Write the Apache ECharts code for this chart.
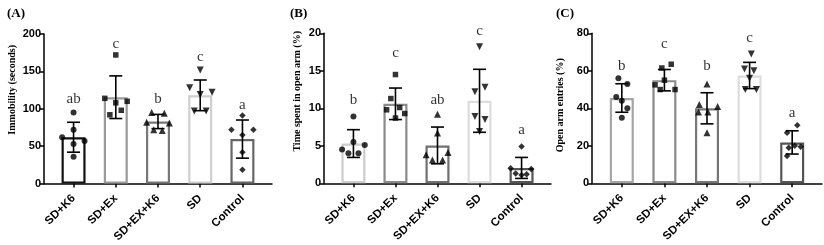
<!DOCTYPE html>
<html>
<head>
<meta charset="utf-8">
<script src="https://cdn.jsdelivr.net/npm/echarts@6/dist/echarts.min.js"></script>
<style>html,body{margin:0;padding:0;background:#fff}#c{width:824px;height:245px}</style>
</head>
<body>
<div id="c"></div>
<script>
// ---------- data ----------
const categories = ['SD+K6', 'SD+Ex', 'SD+EX+K6', 'SD', 'Control'];

// Panel A: Immobility (seconds)
const meansA = [62, 115.5, 83, 118, 59.5];
const sdA = [20, 28.5, 9.5, 20.5, 25.5];
const pointsA = [
  [95, 72, 62, 57, 53, 36],
  [172, 114, 110, 108, 98, 92],
  [95, 94, 82, 81, 72, 71],
  [152, 128, 122, 119, 97, 97],
  [91, 72, 72, 65, 42, 18.5]
];
const jitterA = [
  [0, 0, -0.27, 0.26, 0, 0],
  [0, -0.26, 0.27, 0, 0.13, -0.14],
  [-0.15, 0.15, -0.27, 0.27, -0.1, 0.1],
  [0, -0.25, 0.28, 0, -0.14, 0.14],
  [0, -0.26, 0.26, 0, 0, 0]
];
const lettersA = ['ab', 'c', 'b', 'c', 'a'];
const letterYA = [112.6, 187, 112.6, 169, 104.7];
const ticksA = [0, 50, 100, 150, 200];

// Panel B: Time spent in open arm (%)
const meansB = [5.3, 10.6, 5.05, 11.0, 2.05];
const sdB = [1.85, 2.1, 2.45, 4.2, 1.4];
const pointsB = [
  [8.9, 5.5, 4.5, 5.1, 4.0, 4.0],
  [14.5, 11.3, 10.1, 9.8, 9.3, 8.7],
  [9.2, 6.7, 4.1, 3.8, 3.1, 3.1],
  [18.2, 12.8, 12.2, 8.9, 8.5, 6.9],
  [4.9, 2.0, 1.9, 1.3, 1.1, 1.2]
];
const jitterB = [
  [0, 0, -0.27, 0.27, -0.12, 0.12],
  [0, -0.11, 0.1, -0.21, 0.22, 0],
  [0, 0, 0.25, -0.27, -0.12, 0.12],
  [0, 0.13, -0.11, -0.11, 0.13, 0],
  [0, -0.26, 0.23, -0.14, 0, 0.12]
];
const lettersB = ['b', 'c', 'ab', 'c', 'a'];
const letterYB = [11.1, 17.3, 11.1, 20.3, 7.1];
const ticksB = [0, 5, 10, 15, 20];

// Panel C: Open arm entries (%)
const meansC = [45.5, 55, 40, 57.5, 21.8];
const sdC = [7.6, 5.7, 8.3, 7.0, 6.2];
const pointsC = [
  [56, 53, 46, 44, 40, 35],
  [63.5, 61.5, 55, 52.5, 50, 50],
  [53, 42, 41, 38, 38, 27],
  [69, 61, 60, 56, 50, 50],
  [31, 27, 20, 19.5, 19, 14.5]
];
const jitterC = [
  [-0.08, 0.13, -0.13, 0, 0.13, 0],
  [0.16, -0.06, 0, -0.22, -0.1, 0.25],
  [0, -0.18, 0.25, -0.2, 0.02, 0],
  [0.04, -0.12, 0.1, 0, -0.1, 0.16],
  [0.12, -0.12, 0.06, 0.2, -0.08, -0.12]
];
const lettersC = ['b', 'c', 'b', 'c', 'a'];
const letterYC = [62.6, 74.3, 62.6, 77.3, 37.7];
const ticksC = [0, 20, 40, 60, 80];

// ---------- styles ----------
const borderA = ['#111111', '#9a9a9a', '#777777', '#cfcfcf', '#666666'];
const borderB = ['#cccccc', '#8a8a8a', '#707070', '#dddddd', '#555555'];
const borderC = ['#a5a5a5', '#8a8a8a', '#777777', '#dddddd', '#555555'];
const symbols = [
  {symbol: 'circle', size: 6, rotate: 0},
  {symbol: 'rect', size: 5.5, rotate: 0},
  {symbol: 'triangle', size: 7, rotate: 0},
  {symbol: 'triangle', size: 7, rotate: 180},
  {symbol: 'rect', size: 4.6, rotate: 45}
];

const panels = [
  {label: '(A)', labelX: 2, name: 'Immobility (seconds)', nameGap: 27, nameShift: 38,
   grid: {left: 44, top: 34, width: 228, height: 151.7},
   means: meansA, sd: sdA, points: pointsA, jitter: jitterA, letters: lettersA, letterY: letterYA, ticks: ticksA, border: borderA},
  {label: '(B)', labelX: 285, name: 'Time spent in open arm (%)', nameGap: 22, nameShift: 34,
   grid: {left: 324, top: 33.3, width: 227, height: 150},
   means: meansB, sd: sdB, points: pointsB, jitter: jitterB, letters: lettersB, letterY: letterYB, ticks: ticksB, border: borderB},
  {label: '(C)', labelX: 551, name: 'Open arm entries (%)', nameGap: 27, nameShift: 6,
   grid: {left: 592, top: 33.3, width: 230, height: 150},
   means: meansC, sd: sdC, points: pointsC, jitter: jitterC, letters: lettersC, letterY: letterYC, ticks: ticksC, border: borderC}
];

const catIdx = categories.map((_, i) => i);
const tickFont = {fontFamily: 'Liberation Sans, Arial, sans-serif', fontWeight: 'bold', color: '#000'};
const axisLineStyle = {color: '#000', width: 1.5};

const option = {
  animation: false,
  backgroundColor: '#fff',
  title: [], grid: [], xAxis: [], yAxis: [], series: []
};

panels.forEach((p, k) => {
  option.title.push({text: p.label, left: p.labelX, top: 2,
    textStyle: {fontFamily: 'Liberation Serif, Times New Roman, serif', fontWeight: 'bold', fontSize: 13, color: '#000'}});
  option.grid.push(Object.assign({containLabel: false}, p.grid));
  option.xAxis.push({
    gridIndex: k, type: 'value', min: -0.7, max: 4.7,
    axisLine: {show: true, onZero: false, lineStyle: axisLineStyle},
    axisTick: {show: true, customValues: catIdx, length: 4, lineStyle: axisLineStyle},
    axisLabel: Object.assign({customValues: catIdx, formatter: v => categories[Math.round(v)],
      rotate: 45, fontSize: 11.5, margin: 13}, tickFont),
    splitLine: {show: false}
  });
  const tk = p.ticks;
  option.yAxis.push({
    gridIndex: k, type: 'value', min: tk[0], max: tk[tk.length - 1], interval: tk[1] - tk[0],
    axisLine: {show: true, onZero: false, lineStyle: axisLineStyle},
    axisTick: {show: true, length: 4, lineStyle: axisLineStyle},
    axisLabel: Object.assign({fontSize: 11, margin: 3}, tickFont),
    splitLine: {show: false},
    name: p.name, nameLocation: 'middle', nameGap: p.nameGap, nameRotate: 90,
    nameTextStyle: {fontFamily: 'Liberation Serif, Times New Roman, serif', fontWeight: 'bold', fontSize: 10, color: '#000',
      padding: [0, 0, 0, p.nameShift]}
  });
  // bars
  option.series.push({
    type: 'bar', xAxisIndex: k, yAxisIndex: k, barWidth: 24, z: 2,
    data: p.means.map((m, i) => ({value: [i, m], itemStyle: {color: '#fff', borderColor: p.border[i], borderWidth: 2.2}}))
  });
  // error bars
  option.series.push({
    type: 'custom', xAxisIndex: k, yAxisIndex: k, z: 3,
    data: p.means.map((m, i) => [i, m, p.sd[i]]),
    renderItem: (params, api) => {
      const x = api.value(0), m = api.value(1), s = api.value(2);
      const t = api.coord([x, m + s]), b = api.coord([x, m - s]);
      const cap = 6.5, st = {stroke: '#000', lineWidth: 1.6};
      return {type: 'group', children: [
        {type: 'line', shape: {x1: t[0], y1: t[1], x2: b[0], y2: b[1]}, style: st},
        {type: 'line', shape: {x1: t[0] - cap, y1: t[1], x2: t[0] + cap, y2: t[1]}, style: st},
        {type: 'line', shape: {x1: b[0] - cap, y1: b[1], x2: b[0] + cap, y2: b[1]}, style: st}
      ]};
    }
  });
  // points
  p.points.forEach((vals, i) => {
    const sy = symbols[i];
    option.series.push({
      type: 'scatter', xAxisIndex: k, yAxisIndex: k, z: 4,
      symbol: sy.symbol, symbolSize: sy.size, symbolRotate: sy.rotate,
      itemStyle: {color: '#000'},
      data: vals.map((v, j) => [i + p.jitter[i][j], v])
    });
  });
  // significance letters
  option.series.push({
    type: 'scatter', xAxisIndex: k, yAxisIndex: k, z: 5, symbolSize: 0, clip: false,
    data: p.letterY.map((y, i) => ({value: [i, y], name: p.letters[i]})),
    label: {show: true, position: 'inside', formatter: d => d.name,
      fontFamily: 'Liberation Serif, Times New Roman, serif', fontSize: 15, color: '#000'}
  });
});

const chart = echarts.init(document.getElementById('c'), null, {renderer: 'canvas'});
chart.setOption(option);
</script>
</body>
</html>
